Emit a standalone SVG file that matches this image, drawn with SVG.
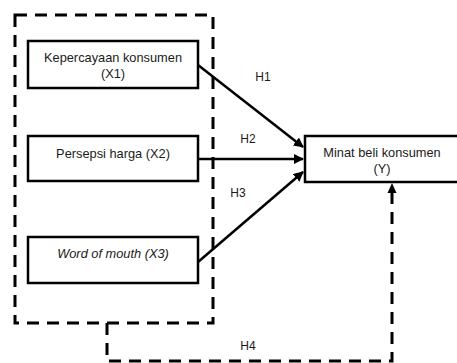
<svg xmlns="http://www.w3.org/2000/svg" width="457" height="363" viewBox="0 0 457 363">
<style>
.box{fill:#fff;stroke:#000;stroke-width:2.5}
.dash{fill:none;stroke:#000;stroke-width:3;stroke-dasharray:12 8}
.arr{fill:none;stroke:#000;stroke-width:2.5}
text{font-family:"Liberation Sans",Arial,sans-serif;font-size:12.8px;fill:#1a1a1a;text-anchor:middle}
.lbl{font-size:12px}
</style>
<defs>
<marker id="ah" viewBox="0 0 10 10" refX="9" refY="5" markerWidth="4" markerHeight="4" orient="auto" markerUnits="strokeWidth">
<path d="M0,0 L10,5 L0,10 z" fill="#000"/>
</marker>
</defs>
<rect width="457" height="363" fill="#fff"/>
<g id="group-x">
<rect class="dash" x="15" y="15" width="198" height="308"/>
</g>
<g id="connectors">
<line class="arr" x1="198" y1="65" x2="303" y2="147" marker-end="url(#ah)"/>
<line class="arr" x1="198" y1="159" x2="303" y2="159" marker-end="url(#ah)"/>
<line class="arr" x1="198" y1="262" x2="303" y2="172" marker-end="url(#ah)"/>
<path class="dash" d="M107,323 V361 H392 V192"/>
<path d="M387.5,193 L392,183 L396.5,193 z" fill="#000"/>
<text class="lbl" x="263" y="81">H1</text>
<text class="lbl" x="248" y="143">H2</text>
<text class="lbl" x="238" y="197">H3</text>
<text class="lbl" x="248" y="350">H4</text>
</g>
<g id="x1">
<rect class="box" x="28" y="41" width="170" height="47"/>
<text x="113" y="62">Kepercayaan konsumen</text>
<text x="113" y="78">(X1)</text>
</g>
<g id="x2">
<rect class="box" x="28" y="136" width="170" height="45"/>
<text x="113" y="158">Persepsi harga (X2)</text>
</g>
<g id="x3">
<rect class="box" x="28" y="237" width="170" height="46"/>
<text x="113" y="258" font-style="italic">Word of mouth (X3)</text>
</g>
<g id="y">
<rect class="box" x="305" y="136" width="156" height="46"/>
<text x="382" y="157">Minat beli konsumen</text>
<text x="382" y="173">(Y)</text>
</g>
</svg>
